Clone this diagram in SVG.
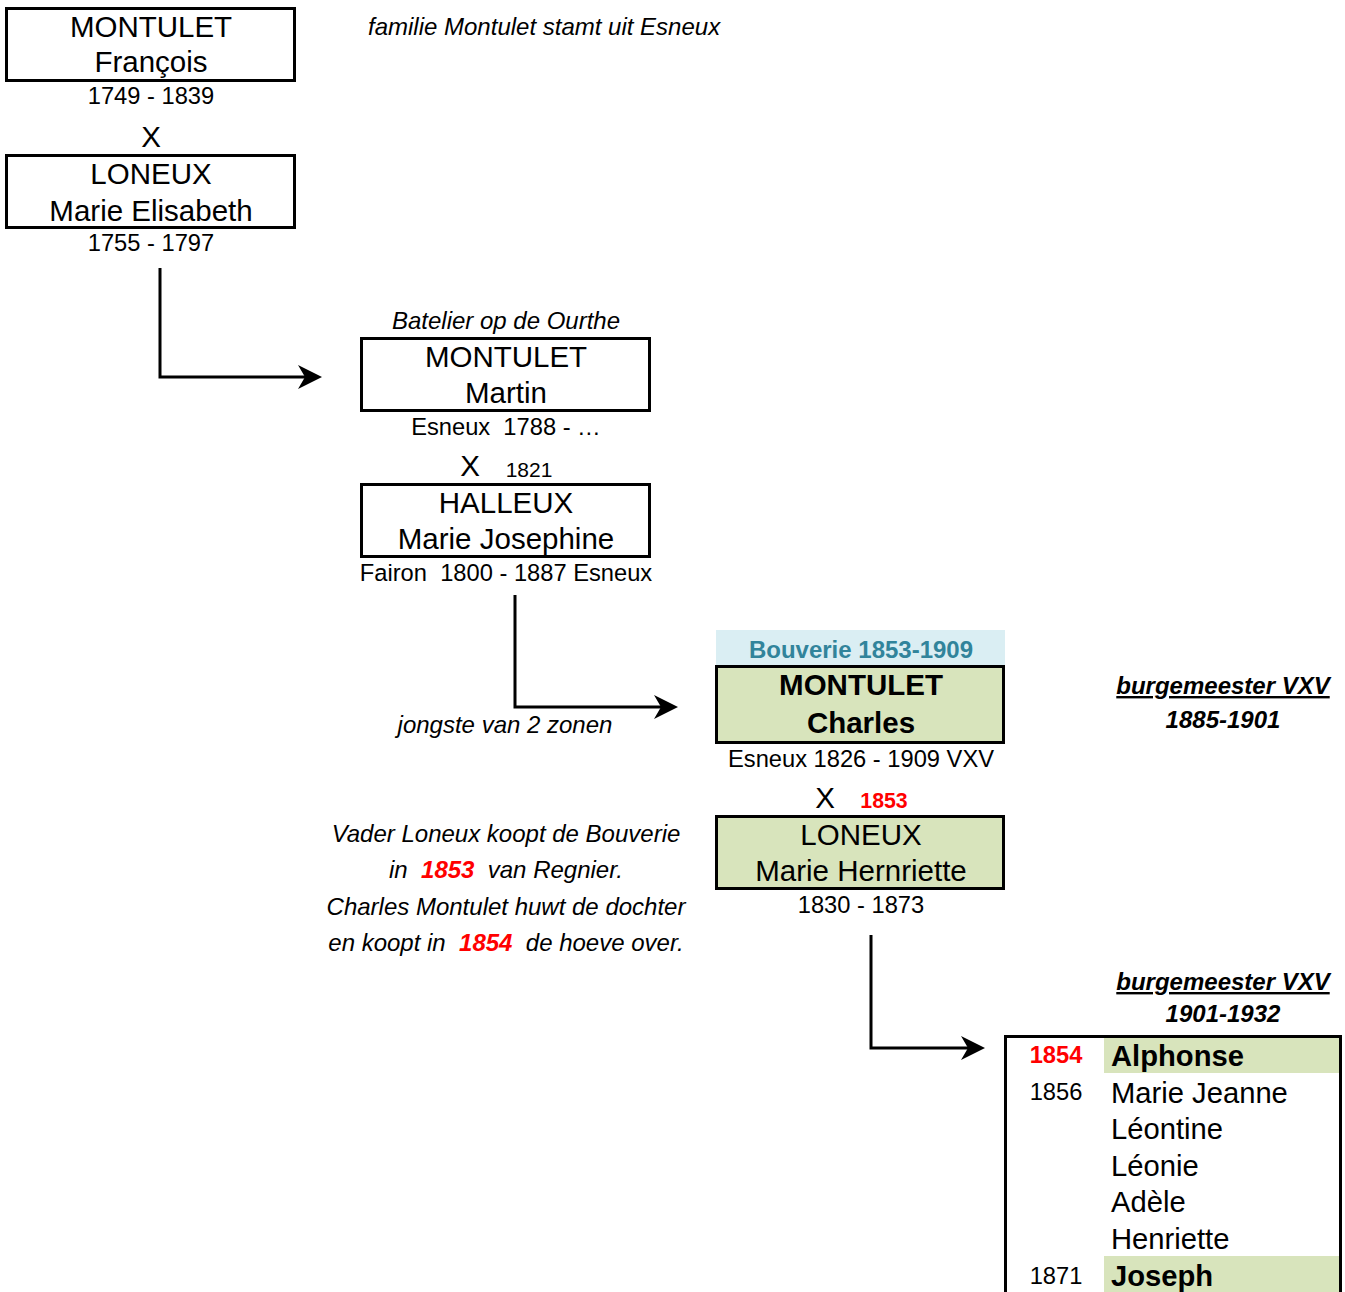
<svg xmlns="http://www.w3.org/2000/svg" width="1345" height="1292" viewBox="0 0 1345 1292">
<style>
text{font-family:"Liberation Sans",Arial,sans-serif;fill:#000}
.n{font-size:29.5px;text-anchor:middle}
.d{font-size:23.7px;text-anchor:middle}
.i{font-size:24px;font-style:italic}
.box{fill:#fff;stroke:#000;stroke-width:3}
.g{fill:#D8E4BC;stroke:#000;stroke-width:3}
.red{fill:#FF0000;font-weight:bold}
.conn{fill:none;stroke:#000;stroke-width:3}
.bm{font-size:24px;font-weight:bold;font-style:italic;text-anchor:middle}
.c{font-size:29.2px}
.y{font-size:23.7px;text-anchor:middle}
</style>
<rect width="1345" height="1292" fill="#fff"/>

<g id="connectors">
<path class="conn" d="M160,268 V377 H305"/>
<path d="M322,377 L298,365 L305,377 L298,389 Z" fill="#000"/>
<path class="conn" d="M515,595 V707 H661"/>
<path d="M678,707 L654,695 L661,707 L654,719 Z" fill="#000"/>
<path class="conn" d="M871,935 V1048 H968"/>
<path d="M985,1048 L961,1036 L968,1048 L961,1060 Z" fill="#000"/>
</g>

<g id="note-familie">
<text class="i" x="368" y="35">familie Montulet stamt uit Esneux</text>
</g>

<g id="francois">
<rect class="box" x="6.5" y="8.5" width="288" height="72"/>
<text class="n" x="151" y="37">MONTULET</text>
<text class="n" x="151" y="72">François</text>
<text class="d" x="151" y="104">1749 - 1839</text>
</g>
<text class="n" x="151" y="147">X</text>
<g id="marie-elisabeth">
<rect class="box" x="6.5" y="155.5" width="288" height="72"/>
<text class="n" x="151" y="184">LONEUX</text>
<text class="n" x="151" y="221">Marie Elisabeth</text>
<text class="d" x="151" y="251">1755 - 1797</text>
</g>

<g id="martin">
<text class="i" x="506" y="329" text-anchor="middle">Batelier op de Ourthe</text>
<rect class="box" x="361.5" y="338.5" width="288" height="72"/>
<text class="n" x="506" y="367">MONTULET</text>
<text class="n" x="506" y="403">Martin</text>
<text class="d" x="506" y="435" xml:space="preserve">Esneux  1788 - …</text>
</g>
<text class="n" x="470" y="476">X</text>
<text x="529" y="477" font-size="21" text-anchor="middle">1821</text>
<g id="marie-josephine">
<rect class="box" x="361.5" y="484.5" width="288" height="72"/>
<text class="n" x="506" y="513">HALLEUX</text>
<text class="n" x="506" y="549">Marie Josephine</text>
<text class="d" x="506" y="581" xml:space="preserve">Fairon  1800 - 1887 Esneux</text>
</g>
<text class="i" x="505" y="733" text-anchor="middle">jongste van 2 zonen</text>

<g id="charles">
<rect x="716" y="630" width="289" height="35" fill="#DAEEF3"/>
<text x="861" y="658" font-size="24" font-weight="bold" text-anchor="middle" style="fill:#31849B">Bouverie 1853-1909</text>
<rect class="g" x="716.5" y="666.5" width="287" height="76"/>
<text class="n" x="861" y="695" font-weight="bold">MONTULET</text>
<text class="n" x="861" y="733" font-weight="bold">Charles</text>
<text class="d" x="861" y="767">Esneux 1826 - 1909 VXV</text>
</g>
<text class="n" x="825" y="808">X</text>
<text class="red" x="884" y="808" font-size="21.3" text-anchor="middle">1853</text>
<g id="marie-hernriette">
<rect class="g" x="716.5" y="816.5" width="287" height="72"/>
<text class="n" x="861" y="845">LONEUX</text>
<text class="n" x="861" y="881">Marie Hernriette</text>
<text class="d" x="861" y="913">1830 - 1873</text>
</g>

<g id="note-bouverie">
<text class="i" x="506" y="842" text-anchor="middle">Vader Loneux koopt de Bouverie</text>
<text class="i" x="506" y="878" text-anchor="middle" xml:space="preserve">in  <tspan class="red">1853</tspan>  van Regnier.</text>
<text class="i" x="506" y="915" text-anchor="middle">Charles Montulet huwt de dochter</text>
<text class="i" x="506" y="951" text-anchor="middle" xml:space="preserve">en koopt in  <tspan class="red">1854</tspan>  de hoeve over.</text>
</g>

<g id="burgemeester-1">
<text class="bm" x="1223" y="694" text-decoration="underline">burgemeester VXV</text>
<text class="bm" x="1223" y="728">1885-1901</text>
</g>
<g id="burgemeester-2">
<text class="bm" x="1223" y="990" text-decoration="underline">burgemeester VXV</text>
<text class="bm" x="1223" y="1022">1901-1932</text>
</g>

<g id="children">
<rect x="1104" y="1037" width="236" height="36" fill="#D8E4BC"/>
<rect x="1104" y="1256" width="236" height="40" fill="#D8E4BC"/>
<path d="M1005.5,1295 V1036.5 H1340.5 V1295" fill="none" stroke="#000" stroke-width="3"/>
<text class="y red" x="1056" y="1063">1854</text>
<text class="c" x="1111" y="1066" font-weight="bold">Alphonse</text>
<text class="y" x="1056" y="1100">1856</text>
<text class="c" x="1111" y="1103">Marie Jeanne</text>
<text class="c" x="1111" y="1139">Léontine</text>
<text class="c" x="1111" y="1176">Léonie</text>
<text class="c" x="1111" y="1212">Adèle</text>
<text class="c" x="1111" y="1249">Henriette</text>
<text class="y" x="1056" y="1284">1871</text>
<text class="c" x="1111" y="1286" font-weight="bold">Joseph</text>
</g>
</svg>
